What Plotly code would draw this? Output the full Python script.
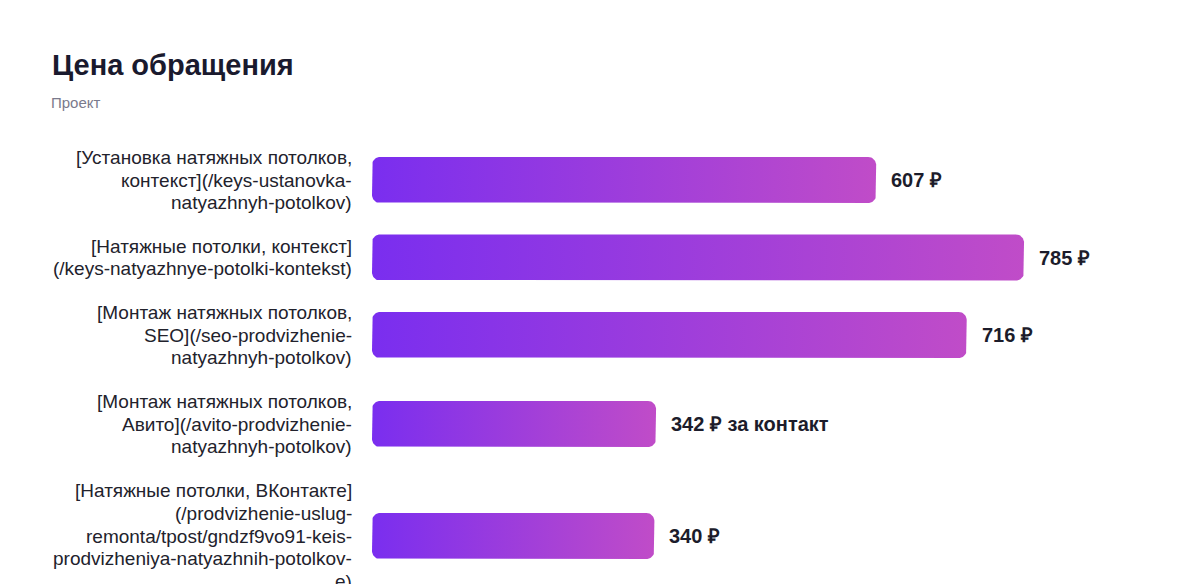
import math
import plotly.graph_objects as go

# ---------------- data ----------------
categories = [
    ["[Установка натяжных потолков,", "контекст](/keys-ustanovka-", "natyazhnyh-potolkov)"],
    ["[Натяжные потолки, контекст]", "(/keys-natyazhnye-potolki-kontekst)"],
    ["[Монтаж натяжных потолков,", "SEO](/seo-prodvizhenie-", "natyazhnyh-potolkov)"],
    ["[Монтаж натяжных потолков,", "Авито](/avito-prodvizhenie-", "natyazhnyh-potolkov)"],
    ["[Натяжные потолки, ВКонтакте]", "(/prodvizhenie-uslug-", "remonta/tpost/gndzf9vo91-keis-",
     "prodvizheniya-natyazhnih-potolkov-", "e)"],
]
values = [607, 785, 716, 342, 340]
value_suffixes = ["₽", "₽", "₽", "₽ за контакт", "₽"]
title_text = "Цена обращения"
subtitle_text = "Проект"

# ---------------- layout constants ----------------
W, H = 1200, 584
PLOT_LEFT = 372          # px where bars start
PX_PER_UNIT = 0.8306     # horizontal scale
BAR_H = 46
LINE_H = 23
TEXT_LINE = 22.6
ROW_GAP = 20
FIRST_TOP = 145.5
RADIUS = 8
FONT = "Liberation Sans, Arial, Helvetica, sans-serif"
C_LEFT, C_RIGHT = "#7A2EEF", "#C04CC8"

x_max = (W - PLOT_LEFT) / PX_PER_UNIT

# row centres derived from the number of label lines
centers = []
top = FIRST_TOP
for lines in categories:
    h = max(BAR_H, len(lines) * LINE_H)
    centers.append(top + h / 2)
    top += h + ROW_GAP


def rounded_bar(length, yc):
    rx = RADIUS / PX_PER_UNIT
    ry = RADIUS
    y0, y1 = yc - BAR_H / 2, yc + BAR_H / 2
    corners = [
        (length - rx, y0 + ry, -90, 0),
        (length - rx, y1 - ry, 0, 90),
        (rx, y1 - ry, 90, 180),
        (rx, y0 + ry, 180, 270),
    ]
    xs, ys = [], []
    for cx, cy, a0, a1 in corners:
        for k in range(13):
            a = math.radians(a0 + (a1 - a0) * k / 12)
            xs.append(cx + rx * math.cos(a))
            ys.append(cy + ry * math.sin(a))
    xs.append(xs[0])
    ys.append(ys[0])
    return xs, ys


fig = go.Figure()
for v, yc in zip(values, centers):
    xs, ys = rounded_bar(v, yc)
    fig.add_trace(go.Scatter(
        x=xs, y=ys, mode="lines", fill="toself",
        fillgradient=dict(type="horizontal",
                          colorscale=[[0, C_LEFT], [1, C_RIGHT]]),
        line=dict(width=0, color="rgba(0,0,0,0)"),
        hoverinfo="skip", showlegend=False,
    ))

annotations = []
for lines, v, suf, yc in zip(categories, values, value_suffixes, centers):
    n = len(lines)
    for i, line in enumerate(lines):
        annotations.append(dict(
            x=0, xref="paper", xanchor="right", xshift=-18,
            y=yc + (i - (n - 1) / 2) * TEXT_LINE, yref="y", yanchor="middle",
            text=line, align="right", showarrow=False,
            font=dict(family=FONT, size=19, color="#22222c"),
        ))
    annotations.append(dict(
        x=v, xref="x", xanchor="left", xshift=13,
        y=yc, yref="y", yanchor="middle",
        text=f"<b>{v} {suf}</b>", showarrow=False,
        font=dict(family=FONT, size=20, color="#1c1c2b"),
    ))

annotations.append(dict(
    x=0, xref="paper", xanchor="left", xshift=50 - PLOT_LEFT,
    y=1 - 65 / H, yref="paper", yanchor="middle",
    text=f"<b>{title_text}</b>", showarrow=False,
    font=dict(family=FONT, size=29, color="#1a1a2e"),
))
annotations.append(dict(
    x=0, xref="paper", xanchor="left", xshift=49 - PLOT_LEFT,
    y=1 - 103 / H, yref="paper", yanchor="middle",
    text=subtitle_text, showarrow=False,
    font=dict(family=FONT, size=15, color="#7a7a8c"),
))

fig.update_layout(
    width=W, height=H,
    margin=dict(l=PLOT_LEFT, r=0, t=0, b=0, pad=0),
    paper_bgcolor="white", plot_bgcolor="white",
    xaxis=dict(range=[0, x_max], visible=False, fixedrange=True),
    yaxis=dict(range=[H, 0], visible=False, fixedrange=True),
    annotations=annotations,
    showlegend=False,
)

fig.write_html("out.html", config={"displayModeBar": False},
               post_script="document.body.style.margin='0';")
